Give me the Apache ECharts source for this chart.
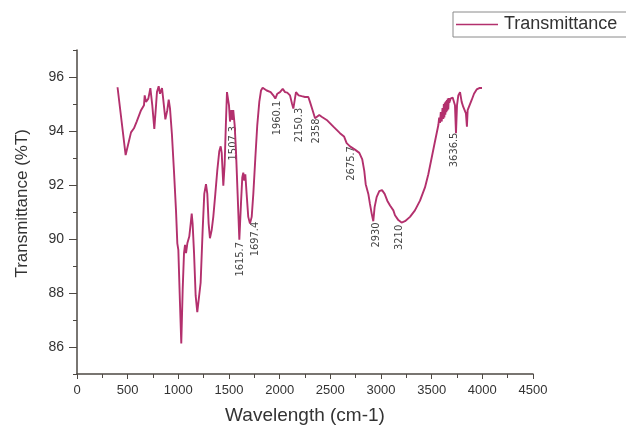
<!DOCTYPE html>
<html>
<head>
<meta charset="utf-8">
<script src="https://cdn.jsdelivr.net/npm/echarts@6/dist/echarts.min.js"></script>
<style>
html,body{margin:0;padding:0;background:#fff;}
#chart{width:626px;height:430px;}
</style>
</head>
<body>
<div id="chart"></div>
<script>
// Wavenumber (cm-1) and transmittance (%T)
const wavenumbers = [400,480,533,562,589,632,661,668,681,704,724,743,763,780,789,806,819,839,852,872,891,905,918,937,957,977,990,1000,1016,1029,1043,1056,1066,1076,1089,1108,1122,1132,1141,1155,1171,1187,1204,1220,1240,1256,1273,1286,1299,1312,1329,1345,1365,1384,1404,1418,1428,1444,1457,1470,1480,1490,1500,1510,1523,1533,1542,1556,1569,1585,1602,1618,1631,1641,1651,1661,1674,1690,1707,1724,1740,1760,1779,1799,1816,1832,1872,1911,1937,1957,1977,2003,2030,2053,2075,2102,2122,2135,2151,2161,2174,2187,2201,2217,2250,2283,2299,2325,2349,2365,2391,2414,2464,2530,2595,2635,2661,2694,2743,2786,2815,2835,2849,2858,2875,2891,2908,2924,2937,2957,2983,3010,3036,3062,3089,3122,3138,3171,3203,3237,3286,3335,3385,3434,3467,3500,3533,3566,3574,3582,3590,3599,3607,3615,3620,3625,3630,3635,3640,3645,3650,3654,3659,3664,3669,3674,3687,3697,3707,3720,3730,3740,3750,3763,3780,3796,3812,3829,3838,3848,3855,3872,3894,3918,3944,3970,3997];
const transmittance = [95.62,93.11,93.95,94.10,94.35,94.77,94.95,95.32,95.08,95.20,95.59,94.95,94.08,94.95,95.44,95.66,95.38,95.59,95.14,94.43,94.77,95.16,94.83,93.86,92.52,91.06,89.84,89.60,87.65,86.13,88.14,89.48,89.78,89.48,89.84,90.09,90.57,90.94,90.57,89.48,87.90,87.29,87.23,88.38,90.33,91.67,92.03,91.67,90.57,90.03,90.33,90.82,91.67,92.52,93.25,93.43,93.19,91.97,92.76,94.35,95.44,95.38,94.95,94.35,94.77,94.41,94.77,94.22,93.25,91.67,89.97,91.30,92.28,92.46,92.16,92.40,91.67,90.82,90.57,90.82,91.67,93.01,94.22,95.08,95.50,95.60,95.50,95.44,95.32,95.20,95.38,95.44,95.56,95.44,95.42,95.32,95.01,94.83,94.89,95.44,95.50,95.32,95.26,95.29,95.26,95.26,95.08,94.77,94.47,94.47,94.59,94.53,94.41,94.16,93.92,93.80,93.55,93.43,93.31,93.19,92.95,92.52,92.03,91.97,91.67,91.30,90.94,90.66,91.18,91.55,91.77,91.81,91.67,91.42,91.24,91.06,90.88,90.70,90.61,90.66,90.82,91.06,91.42,91.91,92.40,93.01,93.62,94.22,94.50,94.30,94.70,94.35,94.85,94.45,95.00,94.50,95.05,94.60,95.10,94.70,95.15,94.75,95.20,94.80,95.22,95.05,95.20,95.17,95.24,95.20,94.95,93.92,94.95,95.32,95.44,95.08,94.89,94.83,94.65,94.16,94.77,94.83,95.14,95.38,95.54,95.59,95.59];

// Peak annotations: label text and anchor (centre of the rotated label)
const peakLabels = ['1507.3','1615.7','1697.4','1960.1','2150.3','2358','2675.7','2930','3210','3636.5'];
const peakLabelX = [1545,1610,1757,1974,2191,2360,2704,2950,3178,3720];
const peakLabelY = [93.55,89.25,90.0,94.48,94.22,94.0,92.80,90.15,90.06,93.30];

const xTicks = [0,500,1000,1500,2000,2500,3000,3500,4000,4500];
const yTicks = [86,88,90,92,94,96];

const seriesName = 'Transmittance';
const lineData = wavenumbers.map((w, i) => [w, transmittance[i]]);
const labelData = peakLabels.map((t, i) => ({ value: [peakLabelX[i], peakLabelY[i]], name: t }));

const axisColor = '#4d4843';
const lineColor = '#b3306d';
const chart = echarts.init(document.getElementById('chart'));
chart.setOption({
  animation: false,
  backgroundColor: '#ffffff',
  textStyle: { fontFamily: 'Liberation Sans, Arial, sans-serif' },
  grid: { left: 77, right: 93, top: 50, bottom: 50, containLabel: false },
  legend: {
    data: [{ name: seriesName, icon: 'rect' }],
    left: 453, top: 12,
    padding: [3, 14, 3, 3],
    itemWidth: 42, itemHeight: 1.6, itemGap: 6,
    borderColor: '#8a8a8a', borderWidth: 1,
    itemStyle: { color: lineColor },
    textStyle: { fontSize: 18, color: '#333', padding: [0, 0, 0, 1], lineHeight: 19 }
  },
  xAxis: {
    type: 'value',
    min: 0, max: 4500, interval: 500,
    name: 'Wavelength (cm-1)',
    nameLocation: 'middle', nameGap: 32,
    nameTextStyle: { fontSize: 19, color: '#333' },
    axisLine: { show: true, lineStyle: { color: axisColor, width: 1.5 } },
    axisTick: { show: true, length: 5, lineStyle: { color: axisColor, width: 1 } },
    minorTick: { show: true, splitNumber: 2, length: 4, lineStyle: { color: axisColor } },
    axisLabel: { fontSize: 13, color: '#333', margin: 10,
      formatter: v => xTicks.includes(v) ? String(v) : '' },
    splitLine: { show: false }
  },
  yAxis: [{
    type: 'value',
    min: 85, max: 97, interval: 1,
    axisLine: { show: true, lineStyle: { color: axisColor, width: 1.5 } },
    axisTick: { show: true, length: 8, customValues: yTicks, lineStyle: { color: axisColor, width: 1 } },
    axisLabel: { fontSize: 14, color: '#333', margin: 13, customValues: yTicks },
    splitLine: { show: false }
  }, {
    type: 'value',
    position: 'left',
    min: 85, max: 97, interval: 1,
    axisLine: { show: false },
    axisTick: { show: true, length: 4, lineStyle: { color: axisColor, width: 1 } },
    axisLabel: { show: false },
    splitLine: { show: false }
  }],
  graphic: [{
    type: 'text',
    left: 14, top: 129,
    rotation: Math.PI / 2,
    style: { text: 'Transmittance (%T)', fontSize: 17, fill: '#333',
      fontFamily: 'Liberation Sans, Arial, sans-serif' }
  }],
  series: [{
    name: seriesName,
    type: 'line',
    data: lineData,
    symbol: 'none',
    smooth: false,
    lineStyle: { color: lineColor, width: 1.9 },
    itemStyle: { color: lineColor }
  }, {
    name: 'labels',
    type: 'scatter',
    data: labelData,
    symbolSize: 0,
    silent: true,
    label: {
      show: true, position: 'inside', rotate: 90,
      formatter: p => p.name,
      fontSize: 11, color: '#111',
      fontFamily: '"Liberation Sans Narrow", "DejaVu Sans Condensed", sans-serif'
    }
  }]
});
</script>
</body>
</html>
